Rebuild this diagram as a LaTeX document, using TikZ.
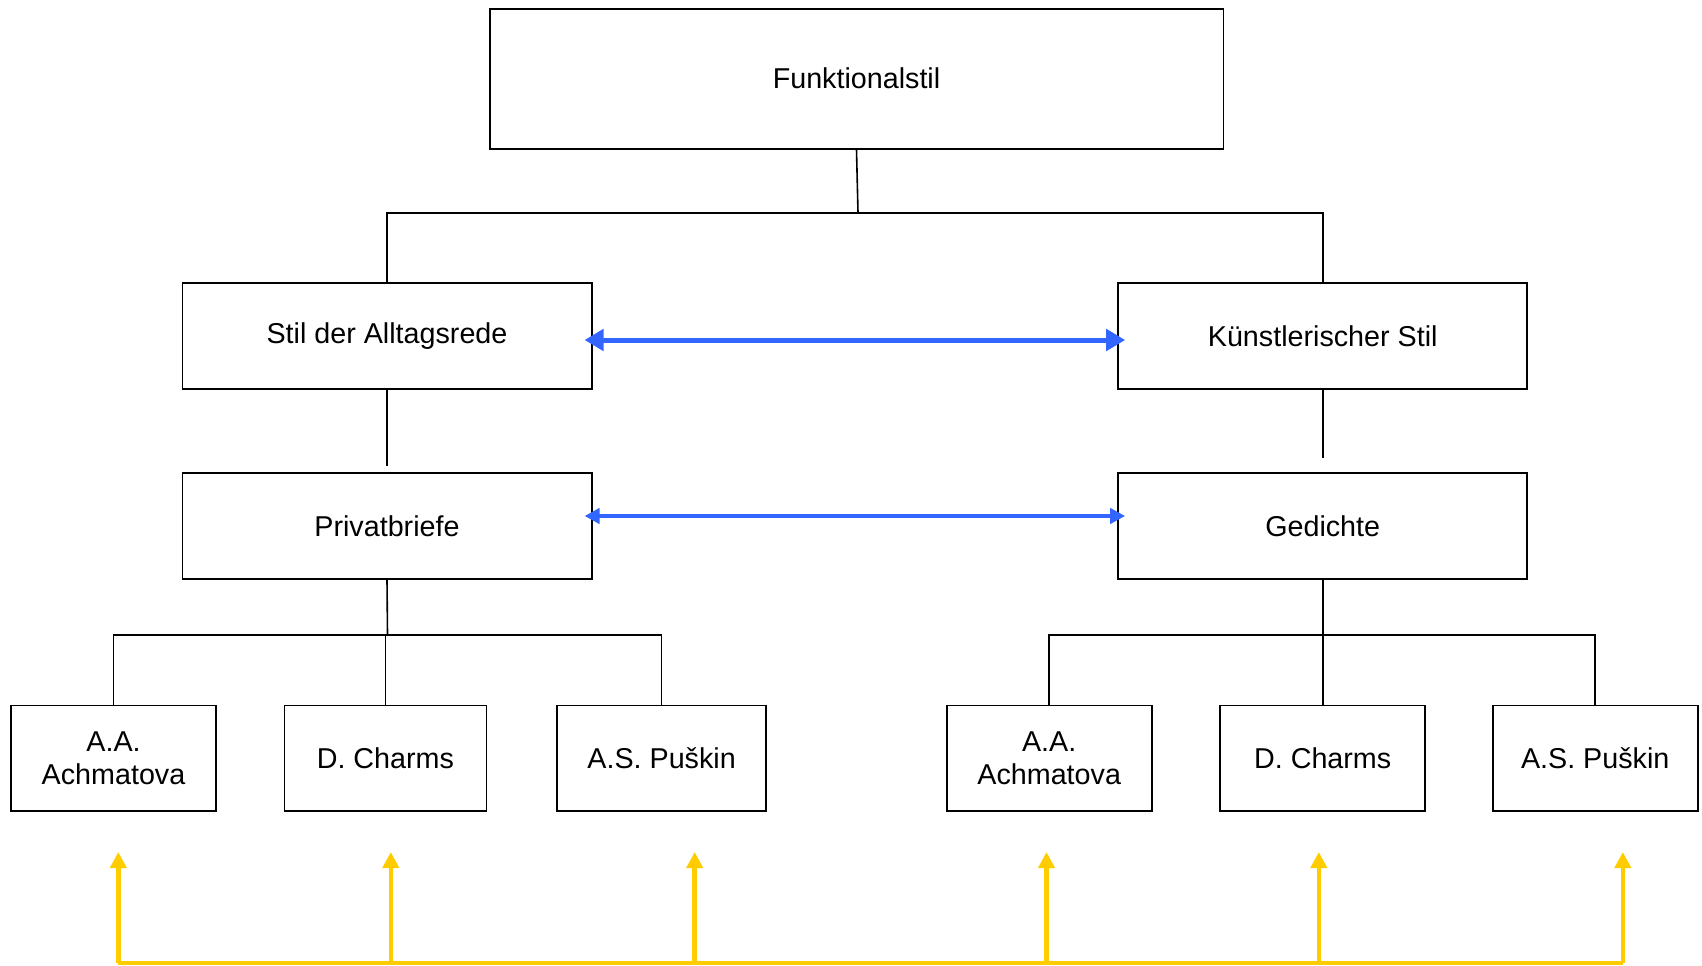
\documentclass[tikz,border=0pt]{standalone}
\usepackage{fontspec}
\setmainfont{Liberation Sans}
\usepackage{tikz}
\usetikzlibrary{arrows.meta,positioning,calc}
\usepackage{xcolor}
\definecolor{LinkBlue}{RGB}{51, 102, 255}
\definecolor{TimeYellow}{RGB}{255, 204, 0}

\begin{document}
\begin{tikzpicture}[x=1pt, y=-1pt,
    every node/.style={align=center, font=\fontsize{28.7}{33}\selectfont},
    box/.style={draw=black, line width=1.8pt, fill=white, inner sep=0pt, minimum height=105.3pt},
    tree/.style={draw=black, line width=1.6pt},
    relation/.style={draw=LinkBlue, line width=5pt, {Triangle[length=19pt, width=21pt]}-{Triangle[length=19pt, width=21pt]}, shorten <=-8pt, shorten >=-8pt},
    relationthin/.style={draw=LinkBlue, line width=4pt, {Triangle[length=15pt, width=15pt]}-{Triangle[length=15pt, width=15pt]}, shorten <=-8pt, shorten >=-8pt},
    timeline/.style={draw=TimeYellow, line width=4.5pt},
    timearrow/.style={draw=TimeYellow, line width=4.5pt, -{Triangle[length=16pt, width=16pt]}}]
      \useasboundingbox (0,0) rectangle (1702,966);
      % Top
      \node[box, minimum width=733.8pt, minimum height=140pt] (funk) at (856.5, 78.7) {Funktionalstil};
      % Styles
      \node[box, minimum width=409.2pt] (alltag) at (387, 336) {Stil der Alltagsrede};
      \node[box, minimum width=409.2pt] (kunst) at (1322.7, 336) {Künstlerischer Stil};
      % Genres
      \node[box, minimum width=409.2pt] (briefe) at (387, 526) {Privatbriefe};
      \node[box, minimum width=409.2pt] (gedichte) at (1322.7, 526) {Gedichte};
      % Authors, left
      \node[box, minimum width=205pt] (achL) at (113.5, 758.2) {A.A.\\Achmatova};
      \node[box, minimum width=202pt] (charmsL) at (385.4, 758.2) {D. Charms};
      \node[box, minimum width=209.5pt] (puskinL) at (661.6, 758.2) {A.S. Puškin};
      % Authors, right
      \node[box, minimum width=205pt] (achR) at (1049.2, 758.2) {A.A.\\Achmatova};
      \node[box, minimum width=205pt] (charmsR) at (1322.7, 758.2) {D. Charms};
      \node[box, minimum width=205pt] (puskinR) at (1595.2, 758.2) {A.S. Puškin};
      % Tree connections
      \coordinate (topfork) at (858, 212.8);
      \coordinate (leftfork) at (387.5, 635);
      \coordinate (rightfork) at (1322.7, 635);
      \draw[tree] (funk.south) -- (topfork);
      \draw[tree] (alltag.north) |- (topfork) -| (kunst.north);
      \draw[tree, shorten >=6pt] (alltag.south) -- (briefe.north);
      \draw[tree, shorten >=14pt] (kunst.south) -- (gedichte.north);
      \draw[tree] (briefe.south) -- (leftfork);
      \draw[tree] (achL.north) |- (leftfork) -| (puskinL.north);
      \draw[tree] (charmsL.north) -- (charmsL.north |- leftfork);
      \draw[tree] (gedichte.south) -- (charmsR.north);
      \draw[tree] (achR.north) |- (rightfork) -| (puskinR.north);
      % Blue relations
      \draw[relation] ($(alltag.east)+(0,4)$) -- ($(kunst.west)+(0,4)$);
      \draw[relationthin] ($(briefe.east)+(0,-10)$) -- ($(gedichte.west)+(0,-10)$);
      % Yellow timeline
      \coordinate (base1) at (118.3, 962.8);
      \coordinate (base2) at (390.8, 962.8);
      \coordinate (base3) at (694.7, 962.8);
      \coordinate (base4) at (1046.5, 962.8);
      \coordinate (base5) at (1318.8, 962.8);
      \coordinate (base6) at (1622.8, 962.8);
      \coordinate (tip1) at (118.3, 852);
      \coordinate (tip2) at (390.8, 852);
      \coordinate (tip3) at (694.7, 852);
      \coordinate (tip4) at (1046.5, 852);
      \coordinate (tip5) at (1318.8, 852);
      \coordinate (tip6) at (1622.8, 852);
      \draw[timeline] (base1) -- (base6);
      \draw[timearrow] (base1) -- (tip1);
      \draw[timearrow] (base2) -- (tip2);
      \draw[timearrow] (base3) -- (tip3);
      \draw[timearrow] (base4) -- (tip4);
      \draw[timearrow] (base5) -- (tip5);
      \draw[timearrow] (base6) -- (tip6);
    \end{tikzpicture}
\end{document}
